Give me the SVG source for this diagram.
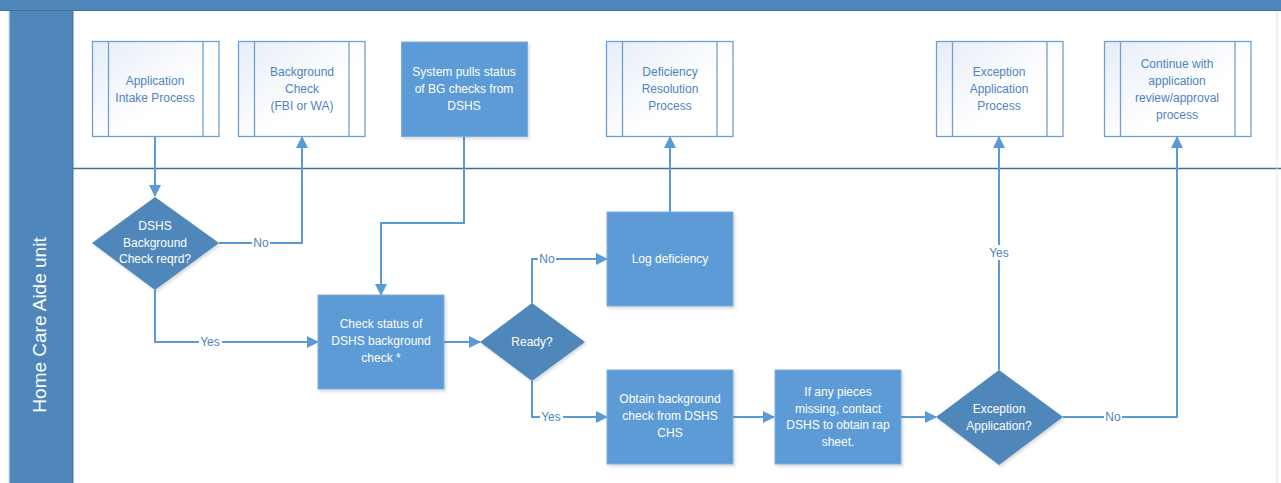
<svg xmlns="http://www.w3.org/2000/svg" width="1281" height="483" viewBox="0 0 1281 483">
<style>
.t{font-family:"Liberation Sans",Arial,sans-serif;font-size:12px;text-anchor:middle}
.w{fill:#ffffff}
.b{fill:#4f84bf}
.sub{fill:url(#g);stroke:#6ea1d2;stroke-width:1.3}
.subl{stroke:#6ea1d2;stroke-width:1.3}
.box{fill:#5b9bd5;stroke:#7aaee0;stroke-width:1;filter:url(#sh)}
.dia{fill:#4f87ba;filter:url(#sh)}
.c{fill:none;stroke:#5b9bd5;stroke-width:2}
.ca{fill:none;stroke:#5b9bd5;stroke-width:2;marker-end:url(#ah)}
.lbl{font-family:"Liberation Sans",Arial,sans-serif;font-size:12px;text-anchor:middle;fill:#4f84bf}
</style>
<defs>
<linearGradient id="g" x1="0" y1="0" x2="1" y2="1">
<stop offset="0" stop-color="#e6edf7"/>
<stop offset="0.6" stop-color="#ffffff"/>
</linearGradient>
<filter id="sh" x="-10%" y="-10%" width="130%" height="130%">
<feDropShadow dx="1.5" dy="2" stdDeviation="1.5" flood-color="#000" flood-opacity="0.15"/>
</filter>
<marker id="ah" markerUnits="userSpaceOnUse" markerWidth="12" markerHeight="12" viewBox="0 0 12 12" refX="11" refY="6" orient="auto">
<path d="M0,0 L12,6 L0,12 Z" fill="#5b9bd5"/>
</marker>
</defs>
<rect x="0" y="0" width="1281" height="483" fill="#ffffff"/>
<g id="lanes">
<rect x="0" y="0" width="1281" height="11" fill="#4f87ba"/>
<line x1="0" y1="10.5" x2="1281" y2="10.5" stroke="#41719c" stroke-width="1"/>
<line x1="9" y1="11" x2="9" y2="483" stroke="#cfd8e3" stroke-width="1"/>
<rect x="9.5" y="11" width="63.5" height="472" fill="#4f87ba"/>
<line x1="73" y1="11" x2="73" y2="483" stroke="#41719c" stroke-width="1"/>
<line x1="73" y1="168.5" x2="1281" y2="168.5" stroke="#3f6f9b" stroke-width="1.3"/>
<line x1="1277" y1="11" x2="1277" y2="483" stroke="#dde4ec" stroke-width="1"/>
<text x="41" y="325" transform="rotate(-90 41 325)" class="t w" style="font-size:19px;dominant-baseline:middle">Home Care Aide unit</text>
</g>
<g id="connectors">
<path class="ca" d="M155,136 V196"/>
<path class="ca" d="M219,243 H302 V137"/>
<path class="ca" d="M155,290 V342 H318"/>
<path class="ca" d="M464,136 V223 H381 V295"/>
<path class="ca" d="M444,342 H480"/>
<path class="ca" d="M532,303 V259 H607"/>
<path class="ca" d="M532,381 V417 H607"/>
<path class="ca" d="M670,212 V137"/>
<path class="ca" d="M733,417 H774"/>
<path class="ca" d="M901,417 H936"/>
<path class="ca" d="M999,370 V137"/>
<path class="ca" d="M1063,417 H1177 V137"/>
<rect x="252" y="236" width="18" height="14" fill="#fff"/>
<text class="lbl" x="261" y="247">No</text>
<rect x="199" y="335" width="23" height="14" fill="#fff"/>
<text class="lbl" x="210" y="346">Yes</text>
<rect x="538" y="252" width="18" height="14" fill="#fff"/>
<text class="lbl" x="547" y="263">No</text>
<rect x="540" y="410" width="23" height="14" fill="#fff"/>
<text class="lbl" x="551" y="421">Yes</text>
<rect x="988" y="245" width="23" height="15" fill="#fff"/>
<text class="lbl" x="999" y="257">Yes</text>
<rect x="1104" y="410" width="18" height="14" fill="#fff"/>
<text class="lbl" x="1113" y="421">No</text>
</g>
<g id="n-intake">
<rect class="sub" x="92.5" y="41.5" width="126.5" height="95"/>
<line class="subl" x1="108.5" y1="42" x2="108.5" y2="136"/>
<line class="subl" x1="203" y1="42" x2="203" y2="136"/>
<text class="t b" x="155" y="85">Application</text>
<text class="t b" x="155" y="102">Intake Process</text>
</g>
<g id="n-bgcheck">
<rect class="sub" x="238.5" y="41.5" width="126.5" height="95"/>
<line class="subl" x1="254.5" y1="42" x2="254.5" y2="136"/>
<line class="subl" x1="349" y1="42" x2="349" y2="136"/>
<text class="t b" x="302" y="76">Background</text>
<text class="t b" x="302" y="93">Check</text>
<text class="t b" x="302" y="110">(FBI or WA)</text>
</g>
<g id="n-syspulls">
<rect class="box" x="401.5" y="42" width="126" height="94.5"/>
<text class="t w" x="464" y="76">System pulls status</text>
<text class="t w" x="464" y="93">of BG checks from</text>
<text class="t w" x="464" y="110">DSHS</text>
</g>
<g id="n-defres">
<rect class="sub" x="606.5" y="41.5" width="126.5" height="95"/>
<line class="subl" x1="622.5" y1="42" x2="622.5" y2="136"/>
<line class="subl" x1="717" y1="42" x2="717" y2="136"/>
<text class="t b" x="670" y="76">Deficiency</text>
<text class="t b" x="670" y="93">Resolution</text>
<text class="t b" x="670" y="110">Process</text>
</g>
<g id="n-excproc">
<rect class="sub" x="936.5" y="41.5" width="126.5" height="95"/>
<line class="subl" x1="952.5" y1="42" x2="952.5" y2="136"/>
<line class="subl" x1="1047" y1="42" x2="1047" y2="136"/>
<text class="t b" x="999" y="76">Exception</text>
<text class="t b" x="999" y="93">Application</text>
<text class="t b" x="999" y="110">Process</text>
</g>
<g id="n-continue">
<rect class="sub" x="1104.5" y="41.5" width="146.5" height="95"/>
<line class="subl" x1="1120.5" y1="42" x2="1120.5" y2="136"/>
<line class="subl" x1="1235" y1="42" x2="1235" y2="136"/>
<text class="t b" x="1177" y="68">Continue with</text>
<text class="t b" x="1177" y="85">application</text>
<text class="t b" x="1177" y="102">review/approval</text>
<text class="t b" x="1177" y="119">process</text>
</g>
<g id="n-dshsreq">
<polygon class="dia" points="155,197 219,243 155,290 92,243"/>
<text class="t w" x="155" y="230">DSHS</text>
<text class="t w" x="155" y="247">Background</text>
<text class="t w" x="155" y="263">Check reqrd?</text>
</g>
<g id="n-checkstatus">
<rect class="box" x="318" y="295" width="126" height="94"/>
<text class="t w" x="381" y="328">Check status of</text>
<text class="t w" x="381" y="345">DSHS background</text>
<text class="t w" x="381" y="362">check *</text>
</g>
<g id="n-ready">
<polygon class="dia" points="532,303 585,342 532,381 480,342"/>
<text class="t w" x="532" y="346">Ready?</text>
</g>
<g id="n-logdef">
<rect class="box" x="607" y="212" width="126" height="94"/>
<text class="t w" x="670" y="263">Log deficiency</text>
</g>
<g id="n-obtain">
<rect class="box" x="607" y="370" width="126" height="94"/>
<text class="t w" x="670" y="403">Obtain background</text>
<text class="t w" x="670" y="420">check from DSHS</text>
<text class="t w" x="670" y="437">CHS</text>
</g>
<g id="n-ifany">
<rect class="box" x="775" y="370" width="126" height="94"/>
<text class="t w" x="838" y="396">If any pieces</text>
<text class="t w" x="838" y="413">missing, contact</text>
<text class="t w" x="838" y="429">DSHS to obtain rap</text>
<text class="t w" x="838" y="446">sheet.</text>
</g>
<g id="n-excapp">
<polygon class="dia" points="999,370 1063,417 999,465 936,417"/>
<text class="t w" x="999" y="413">Exception</text>
<text class="t w" x="999" y="430">Application?</text>
</g>
</svg>
